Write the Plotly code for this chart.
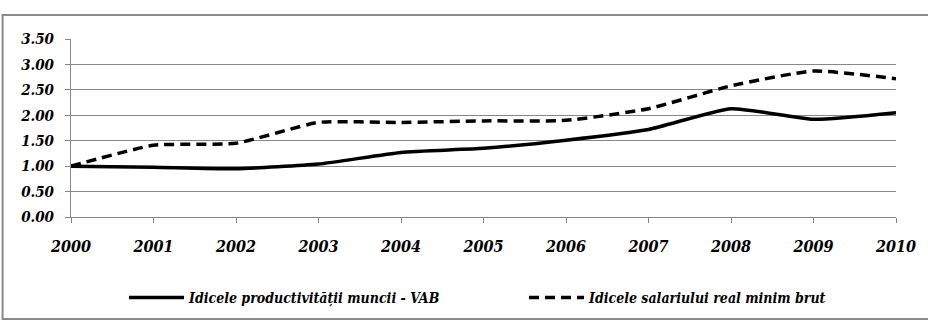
import plotly.graph_objects as go

years = [2000, 2001, 2002, 2003, 2004, 2005, 2006, 2007, 2008, 2009, 2010]
productivitate = [1.00, 0.98, 0.95, 1.04, 1.27, 1.35, 1.51, 1.72, 2.13, 1.92, 2.05]
salariu = [1.00, 1.41, 1.45, 1.86, 1.86, 1.89, 1.90, 2.13, 2.58, 2.87, 2.72]
y_ticks = [0, 0.5, 1.0, 1.5, 2.0, 2.5, 3.0, 3.5]
y_tick_labels = ["0.00", "0.50", "1.00", "1.50", "2.00", "2.50", "3.00", "3.50"]
name_prod = "Idicele productivității muncii - VAB"
name_sal = "Idicele salariului real minim brut"

FONT = "DejaVu Serif Condensed"

fig = go.Figure()
fig.add_trace(go.Scatter(
    x=years, y=productivitate, name=name_prod, mode="lines", legend="legend",
    line=dict(color="black", width=3.5, shape="spline", smoothing=0.5),
))
fig.add_trace(go.Scatter(
    x=years, y=salariu, name=name_sal, mode="lines", legend="legend2",
    line=dict(color="black", width=3.5, dash="10px,6px", shape="spline", smoothing=0.5),
))

W, H = 928, 334
L, R, T, B = 71, 25, 39, 117
pw, ph = W - L - R, H - T - B

def px_x(p):
    return (p - L) / pw

def px_y(p):
    return (H - B - p) / ph

fig.add_shape(type="rect", xref="paper", yref="paper",
              x0=px_x(2), x1=px_x(940), y0=px_y(319), y1=px_y(15),
              line=dict(color="#8a8a8a", width=2), fillcolor="rgba(0,0,0,0)", layer="below")

leg_font = dict(family=FONT, size=14, color="black", weight="bold", style="italic")
leg_common = dict(orientation="h", xanchor="left", yref="container", y=1 - 298 / H,
                  yanchor="middle", itemwidth=55, bgcolor="rgba(0,0,0,0)", xref="container",
                  font=leg_font)

fig.update_layout(
    width=W, height=H,
    margin=dict(l=L, r=R, t=T, b=B),
    paper_bgcolor="white", plot_bgcolor="white",
    font=dict(family=FONT, color="black"),
    showlegend=True,
    legend=dict(x=124 / W, **leg_common),
    legend2=dict(x=524 / W, **leg_common),
    xaxis=dict(
        range=[2000, 2010], tickmode="array", tickvals=years,
        ticktext=[str(y) for y in years],
        showgrid=False, showline=True, linecolor="#878787", linewidth=1,
        ticks="outside", ticklen=5, tickcolor="#878787",
        tickfont=dict(family=FONT, size=16, color="black", weight="bold", style="italic"),
        ticklabelstandoff=10, zeroline=False,
    ),
    yaxis=dict(
        range=[0, 3.5], tickmode="array", tickvals=y_ticks, ticktext=y_tick_labels,
        showgrid=True, gridcolor="#878787", gridwidth=1,
        showline=True, linecolor="#878787", linewidth=1,
        ticks="outside", ticklen=5, tickcolor="#878787",
        tickfont=dict(family=FONT, size=15, color="black", weight="bold", style="italic"),
        ticklabelstandoff=8, zeroline=False,
    ),
)

fig.write_html("out.html")
